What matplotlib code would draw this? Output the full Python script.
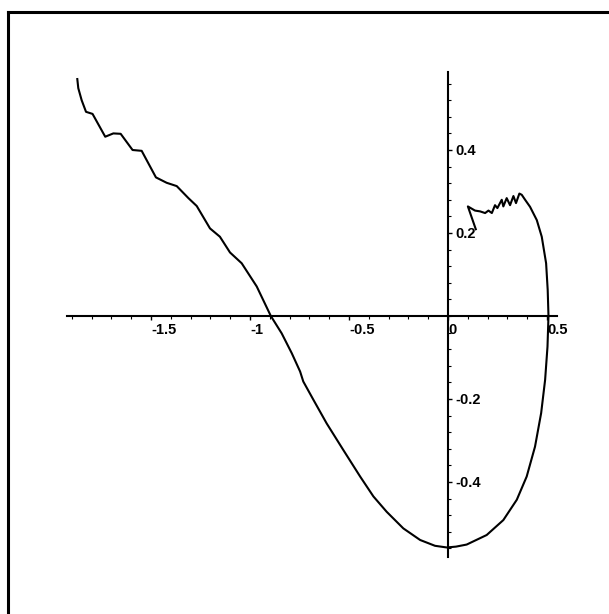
import matplotlib.pyplot as plt
from matplotlib.lines import Line2D
from matplotlib.ticker import MultipleLocator

# curve points (x, y), in drawing order
curve_x = [-1.872, -1.867, -1.850, -1.828, -1.795, -1.731, -1.690, -1.653, -1.593, -1.547,
           -1.475, -1.421, -1.370, -1.311, -1.269, -1.202, -1.152, -1.101, -1.042, -0.966,
           -0.895, -0.840, -0.789, -0.747, -0.731, -0.680, -0.613, -0.529, -0.444, -0.377,
           -0.310, -0.226, -0.141, -0.066, -0.007, 0.040, 0.094, 0.195, 0.279, 0.347,
           0.397, 0.439, 0.470, 0.490, 0.502, 0.507, 0.503, 0.495, 0.473, 0.448,
           0.414, 0.389, 0.372,
           0.360, 0.343, 0.330, 0.313, 0.296, 0.279, 0.271, 0.249, 0.237, 0.221,
           0.204, 0.187, 0.162, 0.136, 0.100, 0.140]
curve_y = [0.571, 0.549, 0.520, 0.492, 0.487, 0.432, 0.440, 0.439, 0.400, 0.398,
           0.334, 0.321, 0.313, 0.284, 0.265, 0.211, 0.191, 0.153, 0.127, 0.071,
           0.000, -0.042, -0.090, -0.134, -0.158, -0.202, -0.259, -0.323, -0.387, -0.435,
           -0.472, -0.512, -0.540, -0.554, -0.558, -0.556, -0.551, -0.528, -0.492, -0.443,
           -0.387, -0.315, -0.234, -0.154, -0.074, 0.000, 0.063, 0.127, 0.191, 0.231,
           0.263, 0.280, 0.292,
           0.295, 0.272, 0.289, 0.267, 0.284, 0.264, 0.280, 0.260, 0.267, 0.248,
           0.254, 0.248, 0.252, 0.254, 0.264, 0.209]

x_ticks = [-1.5, -1.0, -0.5, 0.0, 0.5]
x_labels = ["-1.5", "-1", "-0.5", "0", "0.5"]
y_ticks = [-0.4, -0.2, 0.2, 0.4]
y_labels = ["-0.4", "-0.2", "0.2", "0.4"]

W, H = 609, 614
fig = plt.figure(figsize=(W / 100, H / 100), dpi=100)
ax = fig.add_axes([67 / W, (H - 557) / H, 490 / W, 485 / H])
ax.set_xlim(-1.924, 0.55)
ax.set_ylim(-0.581, 0.588)

ax.plot(curve_x, curve_y, color='black', lw=1.5)

# axes crossing at the origin, maple style
ax.spines['top'].set_visible(False)
ax.spines['left'].set_visible(False)
ax.spines['bottom'].set_position(('data', 0))
ax.spines['right'].set_position(('data', 0))
for s in ('bottom', 'right'):
    ax.spines[s].set_linewidth(1.5)
ax.yaxis.tick_right()

font = dict(family=['Liberation Sans Narrow', 'Liberation Sans', 'DejaVu Sans'],
            weight='bold', size=10.5)
ax.set_xticks(x_ticks)
ax.set_xticklabels(x_labels, **font)
ax.set_yticks(y_ticks)
ax.set_yticklabels(y_labels, **font)
ax.xaxis.set_minor_locator(MultipleLocator(0.1))
ax.yaxis.set_minor_locator(MultipleLocator(0.04))
ax.tick_params(which='major', length=3, width=1, pad=2)
ax.tick_params(which='minor', length=2, width=0.8)
for lab in ax.get_xticklabels():
    lab.set_horizontalalignment('left')

# page frame (top and left edges)
fx = 8 / W
fy = 1 - 12 / H
fig.add_artist(Line2D([fx, 1], [fy, fy], color='black', lw=2.2, transform=fig.transFigure))
fig.add_artist(Line2D([fx, fx], [0, fy], color='black', lw=2.2, transform=fig.transFigure))

fig.savefig('out.png', dpi=100)
